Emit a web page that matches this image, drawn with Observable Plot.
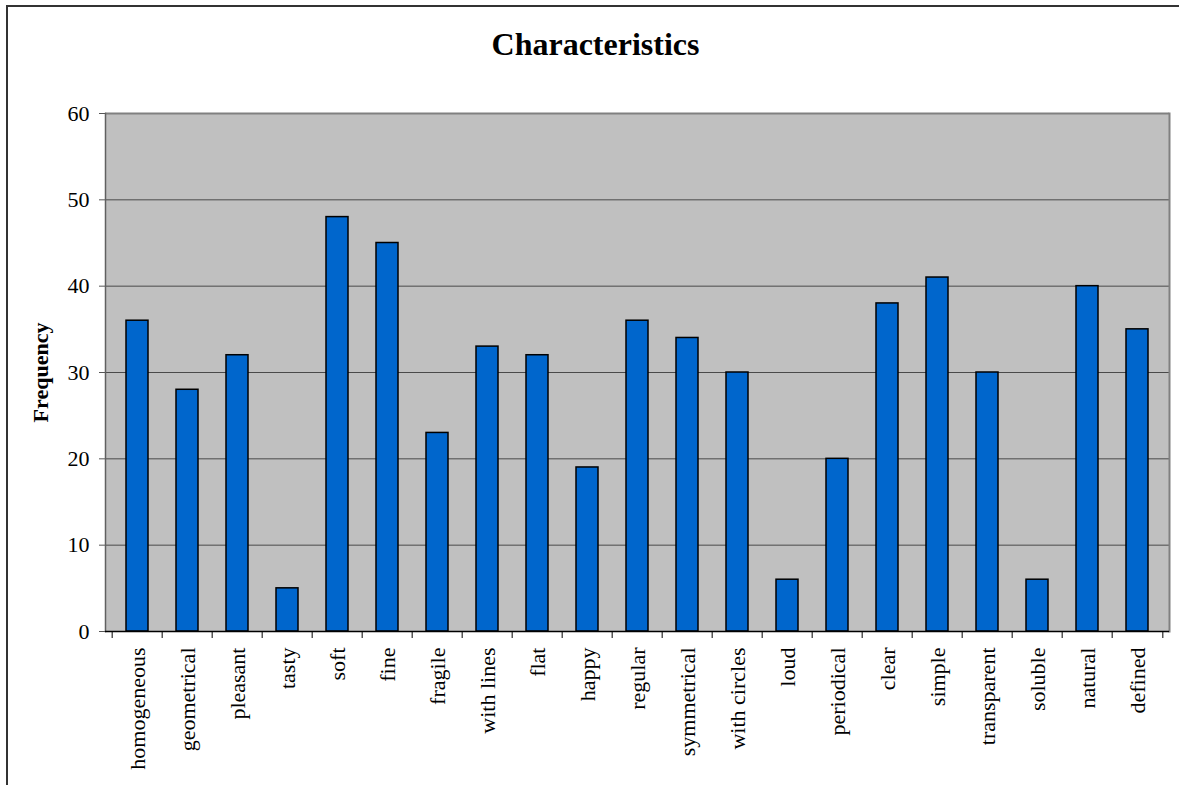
<!DOCTYPE html>
<html>
<head>
<meta charset="utf-8">
<script src="https://cdn.jsdelivr.net/npm/d3@7"></script>
<script src="https://cdn.jsdelivr.net/npm/@observablehq/plot@0.6"></script>
<style>
  html, body { margin: 0; padding: 0; background: #fff; overflow: hidden; }
  #wrap { position: relative; width: 1179px; height: 785px; }
  #wrap svg { position: absolute; left: 0; top: 0; }
  #border { position: absolute; left: 6px; top: 5px; width: 1300px; height: 900px;
            border-left: 2px solid #333; border-top: 2px solid #333; pointer-events: none; }
</style>
</head>
<body>
<div id="wrap"><div id="border"></div></div>
<script>
const categories = ["homogeneous","geometrical","pleasant","tasty","soft","fine","fragile","with lines","flat","happy","regular","symmetrical","with circles","loud","periodical","clear","simple","transparent","soluble","natural","defined"];
const frequencies = [36,28,32,5,48,45,23,33,32,19,36,34,30,6,20,38,41,30,6,40,35];
const yTicks = [0,10,20,30,40,50,60];
const gridTicks = [10,20,30,40,50];
const titleText = "Characteristics";
const yLabel = "Frequency";

const data = categories.map((c, i) => ({cat: c, value: frequencies[i]}));

const W = 1179, H = 785;
const mL = 105, mR = 10, mT = 113, mB = 154;
const bw = (W - mL - mR) / categories.length;
const serif = "'Liberation Serif', 'Times New Roman', Times, serif";

const chart = Plot.plot({
  width: W,
  height: H,
  marginLeft: mL,
  marginRight: mR,
  marginTop: mT,
  marginBottom: mB,
  style: {fontFamily: serif, background: "transparent", overflow: "visible"},
  x: {domain: categories, padding: 0, axis: null},
  y: {domain: [0, 60], axis: null},
  marks: [
    Plot.frame({fill: "#C0C0C0", stroke: null}),
    Plot.ruleY(gridTicks, {stroke: "#4a4a4a", strokeWidth: 1}),
    Plot.ruleY([60], {stroke: "#808080", strokeWidth: 2}),
    Plot.frame({anchor: "right", stroke: "#808080", strokeWidth: 2}),
    Plot.barY(data, {x: "cat", y: "value", fill: "#0066CC", stroke: "#000", strokeWidth: 1.5, insetLeft: 14, insetRight: 14}),
    // y axis
    Plot.axisY({ticks: yTicks, tickSize: 6, tickPadding: 10, fontSize: 22, stroke: "#555", color: "#000", label: null, tickFormat: d => d}),
    Plot.frame({anchor: "left", stroke: "#606060", strokeWidth: 1.5}),
    // x axis category boundary ticks
    Plot.axisX({ticks: categories, tickSize: 7, tickFormat: () => "", label: null, dx: -bw / 2, stroke: "#000"}),
    Plot.axisX({ticks: [categories[categories.length - 1]], tickSize: 7, tickFormat: () => "", label: null, dx: bw / 2, stroke: "#000"}),
    Plot.ruleY([0], {stroke: "#000", strokeWidth: 1.5}),
    // x labels
    Plot.text(categories, {x: d => d, text: d => d, frameAnchor: "bottom", rotate: -90, textAnchor: "end", lineAnchor: "middle", dy: 16, fontSize: 22, fill: "#000"}),
    // y label
    Plot.text([yLabel], {frameAnchor: "left", text: d => d, rotate: -90, textAnchor: "middle", lineAnchor: "middle", dx: -65, fontSize: 22, fontWeight: "bold", fill: "#000"}),
    // title
    Plot.text([titleText], {frameAnchor: "top", text: d => d, textAnchor: "middle", lineAnchor: "middle", dy: -69, dx: 595 - (mL + (W - mL - mR) / 2), fontSize: 32, fontWeight: "bold", fill: "#000"})
  ]
});
document.getElementById("wrap").prepend(chart);
</script>
</body>
</html>
